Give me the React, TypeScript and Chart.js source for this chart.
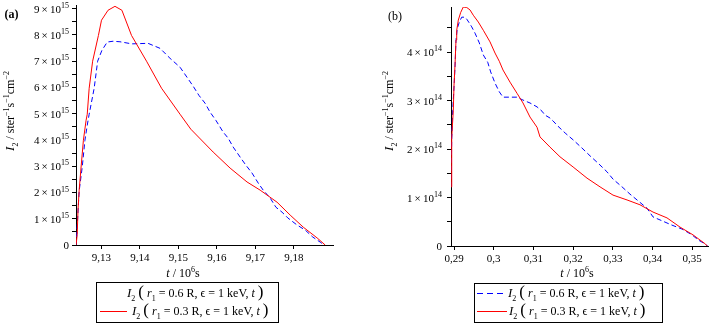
import React, { useEffect, useRef } from 'react';
import { Chart, registerables } from 'chart.js';

Chart.register(...registerables);

// ---------- Panel (a): t in 10^6 s, I2 in units of 10^15 ----------
const aRedT = [9.1234, 9.1237, 9.1239, 9.1242, 9.1247, 9.1253, 9.126, 9.1263, 9.1268, 9.1277, 9.1292, 9.13, 9.1317, 9.1335, 9.1353, 9.1378, 9.1417, 9.1456, 9.1504, 9.1532, 9.159, 9.1634, 9.1678, 9.1712, 9.1756, 9.179, 9.1824, 9.186, 9.1881];
const aRedV = [0, 0.4, 1.33, 2.09, 2.97, 3.99, 4.75, 4.98, 5.97, 7.0, 7.98, 8.56, 8.94, 9.09, 8.94, 7.98, 7.0, 5.97, 4.98, 4.41, 3.54, 2.93, 2.4, 2.09, 1.63, 1.14, 0.68, 0.27, 0];
const aBlueT = [9.1234, 9.1238, 9.1242, 9.125, 9.1257, 9.1263, 9.1268, 9.1281, 9.129, 9.1301, 9.1315, 9.133, 9.1348, 9.1379, 9.1421, 9.1452, 9.1478, 9.1504, 9.1522, 9.1538, 9.1553, 9.1569, 9.1582, 9.1597, 9.1616, 9.1629, 9.1642, 9.166, 9.1675, 9.1691, 9.1707, 9.172, 9.1738, 9.1753, 9.1769, 9.1784, 9.1808, 9.1829, 9.1849, 9.1868, 9.1878];
const aBlueV = [0, 0.99, 2.05, 2.97, 3.99, 4.56, 4.98, 5.97, 7.0, 7.41, 7.73, 7.76, 7.74, 7.66, 7.68, 7.49, 7.11, 6.77, 6.39, 6.05, 5.7, 5.4, 5.06, 4.75, 4.3, 4.07, 3.73, 3.35, 3.04, 2.74, 2.36, 2.09, 1.79, 1.44, 1.25, 1.03, 0.76, 0.57, 0.3, 0.11, 0];
const aXTicks = [9.13, 9.14, 9.15, 9.16, 9.17, 9.18];
const aXTickLabels = ['9,13', '9,14', '9,15', '9,16', '9,17', '9,18'];
const aYTicks = [0, 0.5, 1, 1.5, 2, 2.5, 3, 3.5, 4, 4.5, 5, 5.5, 6, 6.5, 7, 7.5, 8, 8.5, 9];
const aYExp = '15';

// ---------- Panel (b): t in 10^6 s, I2 in units of 10^14 ----------
const bRedT = [0.28924, 0.28942, 0.28982, 0.29, 0.29025, 0.2905, 0.29068, 0.29108, 0.29169, 0.29234, 0.2932, 0.29403, 0.29486, 0.29612, 0.29738, 0.29907, 0.30033, 0.30141, 0.30234, 0.30411, 0.30587, 0.30738, 0.30914, 0.31091, 0.31166, 0.31418, 0.3167, 0.32, 0.3235, 0.32678, 0.33005, 0.33358, 0.33685, 0.34013, 0.34365, 0.34693, 0.3502, 0.35335, 0.3538];
const bRedV = [1.22, 2.23, 2.8, 3.32, 3.73, 4.25, 4.45, 4.66, 4.82, 4.93, 4.92, 4.87, 4.76, 4.62, 4.45, 4.21, 3.98, 3.81, 3.63, 3.38, 3.15, 2.95, 2.66, 2.45, 2.25, 2.04, 1.84, 1.63, 1.4, 1.22, 1.05, 0.95, 0.85, 0.7, 0.58, 0.39, 0.23, 0.04, 0];
const bBlueT = [0.28924, 0.28942, 0.28967, 0.29, 0.29025, 0.2905, 0.29083, 0.29134, 0.29194, 0.29277, 0.2932, 0.29385, 0.29446, 0.29529, 0.29637, 0.29738, 0.29849, 0.29924, 0.30033, 0.30141, 0.30234, 0.30411, 0.30587, 0.30738, 0.30914, 0.31091, 0.31217, 0.31292, 0.31418, 0.31494, 0.3162, 0.318, 0.32, 0.32224, 0.32426, 0.32627, 0.32854, 0.33005, 0.33232, 0.33433, 0.3361, 0.33861, 0.34013, 0.34239, 0.34491, 0.34743, 0.34995, 0.35159, 0.35335, 0.3538];
const bBlueV = [1.22, 2.19, 2.8, 3.28, 3.69, 4.25, 4.49, 4.62, 4.72, 4.72, 4.68, 4.6, 4.52, 4.39, 4.19, 3.94, 3.79, 3.59, 3.36, 3.18, 3.07, 3.07, 3.07, 3.01, 2.95, 2.87, 2.78, 2.7, 2.64, 2.58, 2.47, 2.33, 2.19, 2.02, 1.86, 1.71, 1.53, 1.38, 1.22, 1.07, 0.95, 0.78, 0.6, 0.52, 0.43, 0.35, 0.23, 0.12, 0.04, 0];
const bXTicks = [0.29, 0.3, 0.31, 0.32, 0.33, 0.34, 0.35];
const bXTickLabels = ['0,29', '0,3', '0,31', '0,32', '0,33', '0,34', '0,35'];
const bYTicks = [0, 0.5, 1, 1.5, 2, 2.5, 3, 3.5, 4, 4.5];
const bYExp = '14';

const legendR1 = ['0.6', '0.3'];

const FONT = '"Liberation Serif", "DejaVu Serif", serif';
const H = 325;
const RED = '#ff0000';
const BLUE = '#0000ff';

type Seg = { t: string; it?: boolean; sub?: boolean; sup?: boolean; size?: number; bold?: boolean };

function segSize(s: Seg, base: number) {
  return s.size ?? (s.sub || s.sup ? Math.round(base * 0.7) : base);
}
function segFont(s: Seg, base: number) {
  return `${s.it ? 'italic ' : ''}${s.bold ? 'bold ' : ''}${segSize(s, base)}px ${FONT}`;
}
function drawRich(ctx: CanvasRenderingContext2D, x: number, y: number, segs: Seg[], base: number, align: 'left' | 'center' | 'right') {
  let w = 0;
  for (const s of segs) {
    ctx.font = segFont(s, base);
    w += ctx.measureText(s.t).width;
  }
  let cx = align === 'left' ? x : align === 'center' ? x - w / 2 : x - w;
  ctx.textAlign = 'left';
  ctx.textBaseline = 'alphabetic';
  for (const s of segs) {
    ctx.font = segFont(s, base);
    const dy = s.sub ? base * 0.3 : s.sup ? -base * 0.45 : 0;
    ctx.fillText(s.t, cx, y + dy);
    cx += ctx.measureText(s.t).width;
  }
}

function legendSegs(r1: string): Seg[] {
  return [
    { t: 'I', it: true, size: 13 },
    { t: '2', sub: true },
    { t: ' ' },
    { t: '(', size: 17 },
    { t: ' ' },
    { t: 'r', it: true },
    { t: '1', sub: true },
    { t: ` = ${r1} R, \u03F5 = 1 keV, ` },
    { t: 't', it: true },
    { t: ' ' },
    { t: ')', size: 17 },
  ];
}

type Row = { y: number; sample: null | 'red' | 'blue'; sx0: number; sx1: number; tx: number; r1: string };
type PanelCfg = {
  id: string;
  left: number;
  width: number;
  redT: number[]; redV: number[]; blueT: number[]; blueV: number[];
  xMin: number; xMax: number; yMax: number;
  xTicks: number[]; xTickLabels: string[]; yTicks: number[]; exp: string;
  area: { left: number; right: number; top: number; bottom: number };
  yLabelRight: number;
  yTitle: { x: number; y: number };
  xTitle: { x: number; y: number };
  tag: { text: string; x: number; y: number; bold: boolean };
  legend: { x0: number; y0: number; x1: number; y1: number; rows: Row[] };
};

const panels: PanelCfg[] = [
  {
    id: 'a', left: 0, width: 357,
    redT: aRedT, redV: aRedV, blueT: aBlueT, blueV: aBlueV,
    xMin: 9.12338, xMax: 9.19013, yMax: 9.14,
    xTicks: aXTicks, xTickLabels: aXTickLabels, yTicks: aYTicks, exp: aYExp,
    area: { left: 76, right: 333, top: 5, bottom: 245 },
    yLabelRight: 69,
    yTitle: { x: 10, y: 111 },
    xTitle: { x: 183, y: 277 },
    tag: { text: '(a)', x: 11.5, y: 18, bold: true },
    legend: {
      x0: 96, y0: 282, x1: 278, y1: 322,
      rows: [
        { y: 293, sample: null, sx0: 100, sx1: 127, tx: 127, r1: legendR1[0] },
        { y: 311, sample: 'red', sx0: 100, sx1: 127, tx: 132, r1: legendR1[1] },
      ],
    },
  },
  {
    id: 'b', left: 357, width: 357,
    redT: bRedT, redV: bRedV, blueT: bBlueT, blueV: bBlueV,
    xMin: 0.28924, xMax: 0.35398, yMax: 4.93,
    xTicks: bXTicks, xTickLabels: bXTickLabels, yTicks: bYTicks, exp: bYExp,
    area: { left: 94, right: 351, top: 7, bottom: 246 },
    yLabelRight: 85,
    yTitle: { x: 32, y: 111 },
    xTitle: { x: 220, y: 277 },
    tag: { text: '(b)', x: 38, y: 20, bold: false },
    legend: {
      x0: 117, y0: 283, x1: 305, y1: 322,
      rows: [
        { y: 293, sample: 'blue', sx0: 120, sx1: 150, tx: 151, r1: legendR1[0] },
        { y: 311, sample: 'red', sx0: 120, sx1: 150, tx: 152, r1: legendR1[1] },
      ],
    },
  },
];

function PanelChart({ p }: { p: PanelCfg }) {
  const ref = useRef<HTMLCanvasElement>(null);
  useEffect(() => {
    const canvas = ref.current!;
    const deco = {
      id: 'deco_' + p.id,
      afterDraw(chart: any) {
        const ctx: CanvasRenderingContext2D = chart.ctx;
        ctx.save();
        ctx.globalAlpha = 1;
        ctx.globalCompositeOperation = 'source-over';
        ctx.fillStyle = '#000';
        // y tick labels
        const ys = chart.scales.y;
        for (const v of p.yTicks) {
          if (Math.abs(v - Math.round(v)) > 1e-9) continue;
          const py = ys.getPixelForValue(v);
          const segs: Seg[] = v === 0 ? [{ t: '0' }] : [{ t: `${v}\u2009\u00D7\u200910` }, { t: p.exp, sup: true, size: 8 }];
          drawRich(ctx, p.yLabelRight, py + 4, segs, 11, 'right');
        }
        // y title (rotated)
        ctx.save();
        ctx.translate(p.yTitle.x, p.yTitle.y);
        ctx.rotate(-Math.PI / 2);
        drawRich(ctx, 0, 4, [
          { t: 'I', it: true, size: 13 },
          { t: '2', sub: true },
          { t: ' / ster' },
          { t: '\u22121', sup: true },
          { t: 's' },
          { t: '\u22121', sup: true },
          { t: 'cm' },
          { t: '\u22122', sup: true },
        ], 12, 'center');
        ctx.restore();
        // x title
        drawRich(ctx, p.xTitle.x, p.xTitle.y, [
          { t: 't', it: true },
          { t: ' / 10' },
          { t: '6', sup: true },
          { t: 's' },
        ], 12, 'center');
        // panel tag
        drawRich(ctx, p.tag.x, p.tag.y, [{ t: p.tag.text, bold: p.tag.bold }], 12, 'center');
        // legend box
        const lg = p.legend;
        ctx.strokeStyle = '#000';
        ctx.lineWidth = 1;
        ctx.setLineDash([]);
        ctx.strokeRect(lg.x0 + 0.5, lg.y0 + 0.5, lg.x1 - lg.x0, lg.y1 - lg.y0);
        for (const row of lg.rows) {
          if (row.sample === 'red') {
            ctx.fillStyle = RED;
            ctx.fillRect(row.sx0, row.y, row.sx1 - row.sx0, 1);
          } else if (row.sample === 'blue') {
            ctx.fillStyle = BLUE;
            for (let x = row.sx0; x < row.sx1; x += 10) {
              ctx.fillRect(x, row.y, Math.min(6, row.sx1 - x), 1);
            }
          }
          ctx.fillStyle = '#000';
          drawRich(ctx, row.tx, row.y + 4, legendSegs(row.r1), 12, 'left');
        }
        ctx.restore();
      },
    };

    const gridOpts = { drawOnChartArea: false, drawTicks: true, tickLength: 4, color: '#000', tickColor: '#000', lineWidth: 1 };
    const chart = new Chart(canvas, {
      type: 'line',
      data: {
        datasets: [
          {
            label: 'r1 = 0.3 R',
            data: p.redT.map((t, i) => ({ x: t, y: p.redV[i] })),
            borderColor: RED,
            backgroundColor: RED,
            borderWidth: 1,
            pointRadius: 0,
            fill: false,
            tension: 0,
          },
          {
            label: 'r1 = 0.6 R',
            data: p.blueT.map((t, i) => ({ x: t, y: p.blueV[i] })),
            borderColor: BLUE,
            backgroundColor: BLUE,
            borderWidth: 1,
            borderDash: [5, 3],
            pointRadius: 0,
            fill: false,
            tension: 0,
          },
        ],
      },
      options: {
        responsive: false,
        maintainAspectRatio: false,
        animation: false,
        events: [],
        layout: { padding: { left: 0, top: p.area.top, right: p.width - p.area.right, bottom: 0 } },
        plugins: { legend: { display: false }, tooltip: { enabled: false }, title: { display: false } },
        scales: {
          x: {
            type: 'linear',
            min: p.xMin,
            max: p.xMax,
            afterBuildTicks: (s: any) => { s.ticks = p.xTicks.map((v) => ({ value: v })); },
            afterFit: (s: any) => { s.height = H - p.area.bottom; },
            ticks: {
              autoSkip: false,
              maxRotation: 0,
              minRotation: 0,
              padding: 3,
              color: '#000',
              font: { family: FONT, size: 11 },
              callback: (_v: any, i: number) => p.xTickLabels[i],
            },
            grid: gridOpts,
            border: { color: '#000', width: 1 },
          },
          y: {
            type: 'linear',
            min: 0,
            max: p.yMax,
            afterBuildTicks: (s: any) => { s.ticks = p.yTicks.map((v) => ({ value: v })); },
            afterFit: (s: any) => { s.width = p.area.left; },
            ticks: { display: false },
            grid: gridOpts,
            border: { color: '#000', width: 1 },
          },
        },
      } as any,
      plugins: [deco],
    });
    return () => chart.destroy();
  }, [p]);
  return (
    <canvas
      ref={ref}
      width={p.width}
      height={H}
      style={{ position: 'absolute', left: p.left, top: 0, width: p.width, height: H, display: 'block' }}
    />
  );
}

export default function App() {
  return (
    <div style={{ position: 'fixed', left: 0, top: 0, width: 714, height: H, background: '#fff', overflow: 'hidden' }}>
      {panels.map((p) => (
        <PanelChart key={p.id} p={p} />
      ))}
    </div>
  );
}
